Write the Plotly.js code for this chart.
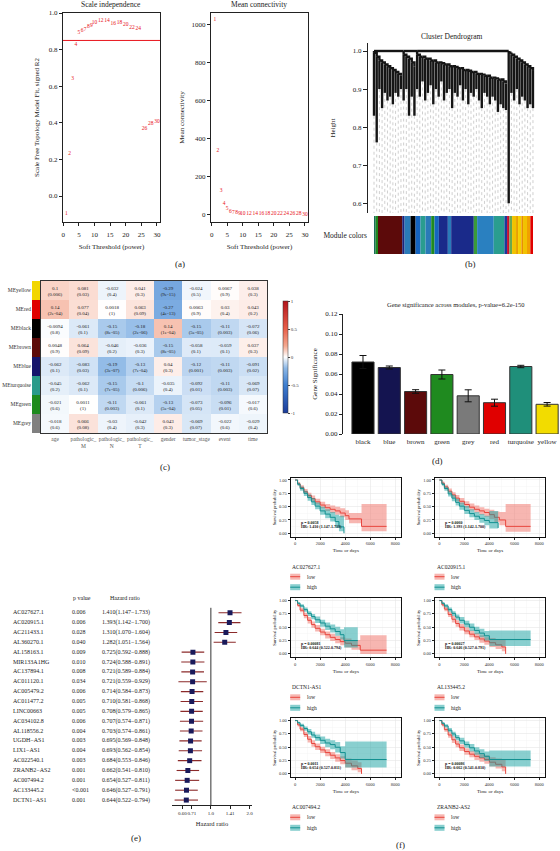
<!DOCTYPE html>
<html><head><meta charset="utf-8">
<script src="https://cdn.plot.ly/plotly-3.0.1.min.js"></script>
<style>html,body{margin:0;padding:0;background:#fff;}#chart{width:560px;height:851px;}</style>
</head><body><div id="chart"></div>
<script>
// ---------------- DATA ----------------
// (a) soft threshold
const powers=[1,2,3,4,5,6,7,8,9,10,12,14,16,18,20,22,24,26,28,30];
const sftR2=[-0.095,0.229,0.639,0.829,0.892,0.902,0.91,0.925,0.93,0.947,0.958,0.958,0.94,0.945,0.934,0.922,0.913,0.366,0.395,0.404];
const meanK=[1030,335,127,58,30,12,8,6,4.5,3.5,2.5,2,1.5,1.2,1,0.9,0.8,0.7,0.6,0.5];
const r2Cutoff=0.85;
// (b) dendrogram (simplified leaves) and module colours
const dendroTop=[0.995,0.985,0.975,0.97,0.965,0.96,0.955,0.95,0.945,0.94,0.935,
 0.99,0.985,0.98,0.97,0.96,
 0.99,0.985,0.985,0.98,0.98,0.975,0.975,0.97,0.97,0.968,0.965,0.965,0.96,0.96,0.958,0.955,0.955,0.95,0.95,0.948,0.945,0.945,0.94,0.94,0.938,0.935,0.935,0.93,0.93,0.928,0.925,0.925,0.92,0.915,
 1.0,
 0.99,0.985,0.98,0.975,0.97,0.965,0.96,0.955,0.95];
const dendroBottom=[0.83,0.76,0.90,0.85,0.89,0.87,0.88,0.86,0.89,0.88,0.90,
 0.87,0.90,0.83,0.88,0.83,
 0.90,0.88,0.92,0.87,0.89,0.91,0.86,0.90,0.88,0.92,0.87,0.89,0.90,0.85,0.89,0.88,0.91,0.87,0.90,0.86,0.89,0.88,0.90,0.87,0.85,0.89,0.88,0.86,0.88,0.87,0.84,0.86,0.85,0.845,
 0.60,
 0.89,0.87,0.90,0.86,0.88,0.87,0.85,0.86,0.85];
const clusterStart=[0,11,16,50,51];
const clusterEnd=[10,15,49,50,59];
const clusterJoin=[1.0,1.0,1.0,1.0,0.996];
const moduleBarWidths=[5,7,73,7,18,15,15,15,17,10,13,27,10,68,10,50,32,8,7,8,12,6,10,5,12,10,8];
const moduleBarColors=['#1A6E5A','#1F8A1F','#5C0A0A','#1A237E','#2A7AB8','#000000','#1565C0','#2A9D8F','#2A7AB8','#1F8A1F','#1565C0','#1A2A8A','#2A7AB8','#1A2A8A','#3A9A3A','#2A80C0','#2A9D8F','#1A3A9A','#C8102E','#6AA84F','#F2C200','#E8A000','#F5D000','#E89000','#F2C200','#F0A000','#E00000'];
// (c) module-trait heatmap
const traitNames=['age','pathologic_<br>M','pathologic_<br>N','pathologic_<br>T','gender','tumor_stage','event','time'];
const moduleNames=['MEyellow','MEred','MEblack','MEbrown','MEblue','MEturquoise','MEgreen','MEgrey'];
const moduleColors=['#F2D600','#E00000','#000000','#5C0A0A','#15156B','#2A9A8A','#1E8A1E','#808080'];
const corMatrix=[
 [0.1,0.081,-0.032,0.041,-0.29,-0.024,0.0067,0.038],
 [0.14,0.077,0.0018,0.063,-0.27,0.0063,0.03,0.043],
 [-0.0094,-0.061,-0.15,-0.18,0.14,-0.15,-0.11,-0.072],
 [0.0048,0.064,-0.046,-0.036,-0.15,-0.058,-0.059,0.037],
 [-0.062,-0.083,-0.19,-0.13,0.04,-0.12,-0.11,-0.091],
 [-0.045,-0.062,-0.15,-0.1,-0.035,-0.092,-0.11,-0.069],
 [-0.021,0.0011,-0.11,-0.061,-0.13,-0.073,-0.096,-0.017],
 [-0.018,0.066,-0.03,-0.042,0.043,-0.069,-0.022,-0.029]];
const pMatrix=[
 ['0.006','0.03','0.4','0.3','9e-15','0.5','0.9','0.3'],
 ['2e-04','0.04','1','0.09','4e-13','0.9','0.4','0.2'],
 ['0.8','0.1','8e-05','2e-06','1e-04','5e-05','0.003','0.06'],
 ['0.9','0.09','0.2','0.3','8e-05','0.1','0.1','0.3'],
 ['0.1','0.03','3e-07','7e-04','0.3','0.001','0.003','0.02'],
 ['0.2','0.1','7e-05','0.006','0.4','0.01','0.003','0.07'],
 ['0.6','1','0.003','0.1','5e-04','0.05','0.01','0.6'],
 ['0.6','0.08','0.4','0.3','0.3','0.07','0.6','0.4']];
// (d) gene significance
const gsModules=['black','blue','brown','green','grey','red','turquoise','yellow'];
const gsMean=[0.072,0.0665,0.0425,0.0595,0.0382,0.0313,0.0675,0.0297];
const gsErr=[0.0065,0.0015,0.0018,0.0045,0.006,0.0035,0.0012,0.0018];
const gsColors=['#000000','#141450','#5C0A0A','#1F8A1F','#7A7A7A','#E00000','#1F8F7A','#F2DC00'];
// (e) forest
const lncNames=['AC027627.1','AC020915.1','AC211433.1','AL360270.1','AL158163.1','MIR133A1HG','AC137894.1','AC011120.1','AC005479.2','AC011477.2','LINC00663','AC034102.8','AL118556.2','UGDH\u2212AS1','LIX1\u2212AS1','AC022540.1','ZRANB2\u2212AS2','AC007494.2','AC133445.2','DCTN1\u2212AS1'];
const lncP=['0.006','0.006','0.028','0.040','0.009','0.010','0.008','0.034','0.006','0.005','0.005','0.006','0.004','0.003','0.004','0.003','0.001','0.001','<0.001','0.001'];
const lncHR=[1.410,1.393,1.310,1.282,0.725,0.724,0.721,0.721,0.714,0.710,0.708,0.707,0.703,0.695,0.693,0.684,0.662,0.654,0.646,0.644];
const lncLow=[1.147,1.142,1.070,1.051,0.592,0.588,0.589,0.559,0.584,0.581,0.579,0.574,0.574,0.569,0.562,0.553,0.541,0.527,0.527,0.522];
const lncHigh=[1.733,1.700,1.604,1.564,0.888,0.891,0.884,0.929,0.873,0.868,0.865,0.871,0.861,0.848,0.854,0.846,0.810,0.811,0.791,0.794];
// (f) survival
const kmGenes=['AC027627.1','AC020915.1','DCTN1-AS1','AL133445.2','AC007494.2','ZRANB2-AS2'];
const kmForestIdx=[0,1,19,18,17,16];
const kmP=['0.0058','0.0060','0.00081','0.00027','0.0011','0.00086'];
const km1LowT=[0,200,400,700,1000,1300,1600,2000,2400,2800,3200,3600,4000,4300,5300,7300];
const km1LowS=[1,0.93,0.86,0.78,0.71,0.65,0.59,0.53,0.48,0.45,0.42,0.38,0.33,0.27,0.13,0.13];
const km1LowL=[1,0.90,0.82,0.74,0.66,0.60,0.54,0.47,0.42,0.38,0.35,0.30,0.25,0.19,0.04,0.04];
const km1LowU=[1,0.96,0.90,0.83,0.76,0.71,0.65,0.59,0.55,0.52,0.50,0.47,0.43,0.38,0.55,0.55];
const km1HighT=[0,200,400,700,1000,1300,1600,2000,2400,2800,3200,3500,3900];
const km1HighS=[1,0.92,0.84,0.75,0.67,0.59,0.51,0.42,0.36,0.30,0.22,0.12,0];
const km1HighL=[1,0.89,0.80,0.70,0.61,0.53,0.45,0.35,0.28,0.22,0.10,0.04,0];
const km1HighU=[1,0.95,0.88,0.80,0.73,0.66,0.58,0.50,0.45,0.40,0.35,0.33,0];
const km2LowT=[0,200,400,700,1000,1300,1600,2000,2400,2800,3200,3600,4000,4400,4800,5300,7300];
const km2LowS=[1,0.94,0.87,0.79,0.72,0.66,0.60,0.54,0.49,0.45,0.42,0.39,0.35,0.30,0.25,0.13,0.13];
const km2LowL=[1,0.91,0.83,0.75,0.67,0.60,0.54,0.48,0.43,0.39,0.35,0.31,0.27,0.21,0.15,0.03,0.03];
const km2LowU=[1,0.97,0.91,0.84,0.77,0.72,0.66,0.60,0.56,0.52,0.49,0.46,0.44,0.41,0.40,0.55,0.55];
const km2HighT=[0,200,400,700,1000,1300,1600,2000,2400,2800,3200,3600,4000,4700];
const km2HighS=[1,0.92,0.84,0.74,0.66,0.58,0.51,0.43,0.37,0.32,0.28,0.24,0.20,0.10];
const km2HighL=[1,0.89,0.80,0.69,0.60,0.52,0.44,0.36,0.30,0.25,0.20,0.15,0.09,0.04];
const km2HighU=[1,0.95,0.88,0.79,0.72,0.65,0.58,0.51,0.45,0.40,0.36,0.33,0.42,0.20];
const km3LowT=[0,200,400,700,1000,1300,1600,2000,2400,2800,3200,3600,4000,4500,5200,7300];
const km3LowS=[1,0.91,0.82,0.72,0.63,0.55,0.48,0.41,0.36,0.31,0.27,0.23,0.20,0.16,0.07,0.07];
const km3LowL=[1,0.88,0.78,0.67,0.57,0.49,0.42,0.35,0.29,0.24,0.20,0.16,0.12,0.08,0,0];
const km3LowU=[1,0.94,0.86,0.77,0.69,0.61,0.54,0.47,0.42,0.38,0.34,0.31,0.29,0.26,0.35,0.35];
const km3HighT=[0,200,400,700,1000,1300,1600,2000,2400,2800,3200,3600,3900,5000];
const km3HighS=[1,0.95,0.90,0.83,0.76,0.70,0.64,0.58,0.52,0.47,0.42,0.36,0.25,0.25];
const km3HighL=[1,0.93,0.87,0.79,0.71,0.65,0.58,0.51,0.45,0.40,0.34,0.27,0.12,0.12];
const km3HighU=[1,0.97,0.93,0.87,0.80,0.75,0.70,0.64,0.59,0.55,0.51,0.46,0.50,0.50];
const km4LowT=[0,200,400,700,1000,1300,1600,2000,2400,2800,3200,3600,4000,4500,5000,5300];
const km4LowS=[1,0.92,0.84,0.74,0.65,0.57,0.50,0.43,0.37,0.32,0.28,0.24,0.21,0.17,0.13,0];
const km4LowL=[1,0.89,0.80,0.69,0.59,0.51,0.44,0.37,0.31,0.26,0.21,0.17,0.13,0.09,0.05,0];
const km4LowU=[1,0.95,0.88,0.79,0.71,0.63,0.56,0.50,0.44,0.39,0.35,0.31,0.30,0.28,0.27,0];
const km4HighT=[0,200,400,700,1000,1300,1600,2000,2400,2800,3200,3600,4000,7300];
const km4HighS=[1,0.95,0.90,0.83,0.76,0.69,0.63,0.56,0.50,0.44,0.39,0.34,0.27,0.27];
const km4HighL=[1,0.93,0.87,0.79,0.71,0.64,0.57,0.50,0.43,0.37,0.31,0.25,0.15,0.15];
const km4HighU=[1,0.97,0.93,0.87,0.80,0.74,0.69,0.62,0.57,0.51,0.47,0.43,0.44,0.44];
const km5LowT=[0,200,400,700,1000,1300,1600,2000,2400,2800,3200,3600,4000,4500,5000,5300];
const km5LowS=[1,0.92,0.84,0.74,0.65,0.57,0.51,0.45,0.40,0.35,0.30,0.25,0.20,0.15,0.10,0];
const km5LowL=[1,0.89,0.80,0.69,0.59,0.51,0.45,0.39,0.33,0.28,0.23,0.18,0.12,0.07,0.03,0];
const km5LowU=[1,0.95,0.88,0.79,0.71,0.63,0.57,0.51,0.46,0.41,0.37,0.33,0.29,0.25,0.22,0];
const km5HighT=[0,200,400,700,1000,1300,1600,2000,2400,2800,3200,3600,4000,7300];
const km5HighS=[1,0.96,0.91,0.85,0.79,0.73,0.68,0.63,0.58,0.55,0.50,0.40,0.27,0.27];
const km5HighL=[1,0.94,0.88,0.81,0.74,0.68,0.62,0.56,0.50,0.46,0.40,0.29,0.12,0.12];
const km5HighU=[1,0.98,0.94,0.89,0.84,0.79,0.74,0.70,0.66,0.63,0.60,0.52,0.61,0.61];
const km6LowT=[0,200,400,700,1000,1300,1600,2000,2400,2800,3200,3600,4000,4500,5000,5300];
const km6LowS=[1,0.92,0.83,0.73,0.64,0.56,0.49,0.42,0.37,0.33,0.30,0.27,0.22,0.18,0.13,0];
const km6LowL=[1,0.89,0.79,0.68,0.58,0.50,0.43,0.36,0.31,0.26,0.23,0.19,0.14,0.10,0.05,0];
const km6LowU=[1,0.95,0.87,0.78,0.70,0.62,0.55,0.48,0.43,0.40,0.37,0.35,0.31,0.29,0.27,0];
const km6HighT=[0,200,400,700,1000,1300,1600,2000,2400,2800,3200,3600,4000,7300];
const km6HighS=[1,0.95,0.90,0.82,0.75,0.68,0.62,0.55,0.49,0.43,0.38,0.33,0.27,0.27];
const km6HighL=[1,0.93,0.87,0.78,0.70,0.63,0.56,0.49,0.42,0.36,0.30,0.24,0.14,0.14];
const km6HighU=[1,0.97,0.93,0.86,0.79,0.73,0.68,0.61,0.56,0.50,0.46,0.42,0.44,0.44];

// ---------------- BUILD ----------------
const W=560,H=851;
const dx=(a,b)=>[a/W,b/W];
const dy=(t,b)=>[1-b/H,1-t/H];
const px=x=>x/W, py=y=>1-y/H;
const serif='Liberation Serif, Times New Roman, serif';
const traces=[],annotations=[],shapes=[];
const base={showgrid:false,zeroline:false,showline:true,linecolor:'#222',linewidth:1,ticks:'outside',ticklen:3,tickwidth:1,tickcolor:'#222',tickfont:{family:serif,size:7,color:'#222'}};
const A=o=>Object.assign({},base,o);
const ttl=(t,s,so)=>({text:t,font:{family:serif,size:s,color:'#222'},standoff:so});
function note(x,y,t,s,o){annotations.push(Object.assign({xref:'paper',yref:'paper',x:px(x),y:py(y),xanchor:'center',yanchor:'middle',text:t,showarrow:false,font:{family:serif,size:s,color:'#222'}},o||{}));}

// (a)
traces.push({type:'scatter',mode:'text',x:powers,y:sftR2,text:powers.map(String),textfont:{family:serif,size:5.5,color:'#E8141B'},xaxis:'x',yaxis:'y',hoverinfo:'skip',cliponaxis:false});
traces.push({type:'scatter',mode:'text',x:powers,y:meanK,text:powers.map(String),textfont:{family:serif,size:5.5,color:'#E8141B'},xaxis:'x2',yaxis:'y2',hoverinfo:'skip',cliponaxis:false});
shapes.push({type:'line',xref:'x domain',yref:'y',x0:0,x1:1,y0:r2Cutoff,y1:r2Cutoff,line:{color:'#E8141B',width:1}});
note(111,4,'Scale independence',7.5);
note(259,4,'Mean connectivity',7.5);
note(180,264,'(a)',9);

// (b) dendrogram
const dX=[],dY=[],gX=[],gY=[];
dendroTop.forEach((t,i)=>{dX.push(i,i,null);dY.push(dendroBottom[i],t,null);gX.push(i,i,null);gY.push(dendroBottom[i],0.5746,null);});
clusterStart.forEach((s,c)=>{
  for(let i=s;i<clusterEnd[c];i++){dX.push(i,i+1,i+1,null);dY.push(dendroTop[i],dendroTop[i],dendroTop[i+1],null);}
  dX.push(s,s,null);dY.push(dendroTop[s],clusterJoin[c],null);
  if(c>0){dX.push(clusterStart[c-1],s,null);dY.push(clusterJoin[c],clusterJoin[c],null);}
});
traces.push({type:'scatter',mode:'lines',x:gX,y:gY,line:{color:'#b0b0b0',width:0.6,dash:'dot'},xaxis:'x3',yaxis:'y3',hoverinfo:'skip'});
traces.push({type:'scatter',mode:'lines',x:dX,y:dY,line:{color:'#151515',width:2.4},xaxis:'x3',yaxis:'y3',hoverinfo:'skip'});
const mcBase=[];let acc=0;moduleBarWidths.forEach(w=>{mcBase.push(acc);acc+=w;});
traces.push({type:'bar',orientation:'h',y:moduleBarWidths.map(()=>'Module colors'),x:moduleBarWidths,base:mcBase,width:1,marker:{color:moduleBarColors,line:{width:0}},xaxis:'x4',yaxis:'y4',hoverinfo:'skip'});
note(452,37,'Cluster Dendrogram',7.5);
note(470,264,'(b)',9);

// (c) heatmap
const cellText=corMatrix.map((r,i)=>r.map((v,j)=>String(v)+'<br>('+pMatrix[i][j]+')'));
traces.push({type:'heatmap',z:corMatrix,x:traitNames,y:moduleNames,text:cellText,texttemplate:'%{text}',textfont:{family:serif,size:5,color:'#222'},zmin:-1,zmax:1,
 colorscale:[[0,'#1B3C9A'],[0.25,'#3F7FD0'],[0.4,'#8DB8E6'],[0.5,'#FFFFFF'],[0.6,'#F4A88F'],[0.75,'#E8604A'],[1,'#B2141C']],
 colorbar:{x:px(273),xanchor:'left',y:py(357),yanchor:'middle',len:132,lenmode:'pixels',thickness:5,outlinewidth:0.5,outlinecolor:'#333',tickvals:[-1,-0.5,0,0.5,1],ticktext:['-1','-0.5','0','0.5','1'],ticks:'outside',ticklen:2,tickfont:{family:serif,size:5,color:'#333'}},
 xaxis:'x5',yaxis:'y5',hoverinfo:'skip',xgap:0,ygap:0});
traces.push({type:'bar',orientation:'h',y:moduleNames,x:moduleNames.map(()=>1),width:1,marker:{color:moduleColors,line:{width:0}},xaxis:'x6',yaxis:'y6',hoverinfo:'skip'});
note(165,467,'(c)',9);

// (d) bars
traces.push({type:'bar',x:gsModules,y:gsMean,marker:{color:gsColors,line:{color:'#333',width:1}},width:0.84,error_y:{type:'data',array:gsErr,visible:true,color:'#111',thickness:1,width:3.5},xaxis:'x7',yaxis:'y7',hoverinfo:'skip'});
note(456,304,'Gene significance across modules, p-value=6.2e-150',6.5);
note(437,461,'(d)',9);

// (e) forest
const hrText=lncHR.map((h,i)=>h.toFixed(3)+'('+lncLow[i].toFixed(3)+'\u2212'+lncHigh[i].toFixed(3)+')');
const tcol=(xs,txt)=>({type:'scatter',mode:'text',x:lncNames.map(()=>xs),y:lncNames,text:txt,textposition:'middle right',textfont:{family:serif,size:6,color:'#222'},xaxis:'x8',yaxis:'y8',hoverinfo:'skip',cliponaxis:false});
traces.push(tcol(13,lncNames),tcol(72,lncP),tcol(102,hrText));
traces.push({type:'scatter',mode:'markers',x:lncHR,y:lncNames,marker:{symbol:'square',size:5,color:'#1A1A5A'},
 error_x:{type:'data',symmetric:false,array:lncHigh.map((h,i)=>h-lncHR[i]),arrayminus:lncHR.map((h,i)=>h-lncLow[i]),color:'#8B2A2A',thickness:1.1,width:0},xaxis:'x9',yaxis:'y9',hoverinfo:'skip'});
shapes.push({type:'line',xref:'x9',yref:'y9 domain',x0:1,x1:1,y0:0,y1:1,line:{color:'#333',width:1}});
note(82,598,'p value',6);
note(125,598,'Hazard ratio',6);
note(136,838,'(e)',9);

// (f) survival
const kmData=[
 [[km1LowT,km1LowS,km1LowL,km1LowU],[km1HighT,km1HighS,km1HighL,km1HighU]],
 [[km2LowT,km2LowS,km2LowL,km2LowU],[km2HighT,km2HighS,km2HighL,km2HighU]],
 [[km3LowT,km3LowS,km3LowL,km3LowU],[km3HighT,km3HighS,km3HighL,km3HighU]],
 [[km4LowT,km4LowS,km4LowL,km4LowU],[km4HighT,km4HighS,km4HighL,km4HighU]],
 [[km5LowT,km5LowS,km5LowL,km5LowU],[km5HighT,km5HighS,km5HighL,km5HighU]],
 [[km6LowT,km6LowS,km6LowL,km6LowU],[km6HighT,km6HighS,km6HighL,km6HighU]]];
const kmStyle=[{line:'#E8463E',fill:'rgba(240,110,100,0.5)'},{line:'#129090',fill:'rgba(20,160,160,0.5)'}];
const colX=[[290.7,401],[435,545]];
const rowY=[[477.7,536.7],[598.3,657.3],[718.3,777.3]];
const layout={width:W,height:H,margin:{l:0,r:0,t:0,b:0},showlegend:false,paper_bgcolor:'#fff',plot_bgcolor:'#fff',font:{family:serif,color:'#222'},annotations,shapes};
kmData.forEach((pl,k)=>{
  const n=10+k, xa='x'+n, ya='y'+n;
  const c=colX[k%2], r=rowY[Math.floor(k/2)];
  pl.forEach((cv,g)=>{
    const st=kmStyle[g];
    traces.push({type:'scatter',mode:'lines',x:cv[0],y:cv[3],line:{width:0,shape:'hv'},xaxis:xa,yaxis:ya,hoverinfo:'skip'});
    traces.push({type:'scatter',mode:'lines',x:cv[0],y:cv[2],line:{width:0,shape:'hv'},fill:'tonexty',fillcolor:st.fill,xaxis:xa,yaxis:ya,hoverinfo:'skip'});
    traces.push({type:'scatter',mode:'lines',x:cv[0],y:cv[1],line:{width:1,shape:'hv',color:st.line},xaxis:xa,yaxis:ya,hoverinfo:'skip'});
  });
  const grid={showgrid:true,gridcolor:'#e6e6e6',gridwidth:0.6,mirror:true,linecolor:'#111',ticklen:2,tickangle:0,tickfont:{family:serif,size:4.5,color:'#333'}};
  layout['xaxis'+n]=A(Object.assign({},grid,{domain:dx(c[0],c[1]),range:[-350,8450],tick0:0,dtick:2000,minor:{dtick:1000,showgrid:true,gridcolor:'#f2f2f2',gridwidth:0.4},anchor:ya,title:ttl('Time or days',5,3)}));
  layout['yaxis'+n]=A(Object.assign({},grid,{domain:dy(r[0],r[1]),range:[-0.064,1.043],tick0:0,dtick:0.25,tickformat:'.2f',minor:{dtick:0.125,showgrid:true,gridcolor:'#f2f2f2',gridwidth:0.4},anchor:xa,title:ttl('Survival probability',4.5,2)}));
  const fi=kmForestIdx[k];
  annotations.push({xref:xa,yref:ya,x:300,y:0.2,xanchor:'left',yanchor:'middle',text:'<b>p = '+kmP[k]+'</b>',showarrow:false,font:{family:serif,size:4,color:'#111'}});
  annotations.push({xref:xa,yref:ya,x:300,y:0.12,xanchor:'left',yanchor:'middle',text:'<b>HR: '+lncHR[fi].toFixed(3)+' ('+lncLow[fi].toFixed(3)+'-'+lncHigh[fi].toFixed(3)+')</b>',showarrow:false,font:{family:serif,size:4,color:'#111'}});
  note(c[0]-0.5,r[0]+89,kmGenes[k],5.5,{xanchor:'left'});
  ['low','high'].forEach((lab,g)=>{
    const yc=r[0]+99+g*10.5;
    shapes.push({type:'rect',xref:'paper',yref:'paper',x0:px(c[0]-0.5),x1:px(c[0]+9.5),y0:py(yc+3),y1:py(yc-3),fillcolor:kmStyle[g].fill,line:{width:0}});
    shapes.push({type:'line',xref:'paper',yref:'paper',x0:px(c[0]-0.5),x1:px(c[0]+9.5),y0:py(yc),y1:py(yc),line:{color:kmStyle[g].line,width:1}});
    note(c[0]+14,yc,lab,5.5,{xanchor:'left'});
  });
});
note(400,845,'(f)',9);

// axes
Object.assign(layout,{
 xaxis:A({domain:dx(63,160),range:[-0.1,31],tickvals:[0,5,10,15,20,25,30],tickangle:0,mirror:true,anchor:'y',ticklabelstandoff:3,title:ttl('Soft Threshold (power)',7,5)}),
 yaxis:A({domain:dy(13,222),range:[-0.142,1.0],tickvals:[0,0.2,0.4,0.6,0.8,1],tickformat:'.1f',mirror:true,anchor:'x',title:ttl('Scale Free Topology Model Fit, signed R2',7,8)}),
 xaxis2:A({domain:dx(211,308),range:[-0.22,31],tickvals:[0,5,10,15,20,25,30],tickangle:0,mirror:true,anchor:'y2',ticklabelstandoff:3,title:ttl('Soft Threshold (power)',7,5)}),
 yaxis2:A({domain:dy(13,222),range:[-41,1063],tickvals:[0,200,400,600,800,1000],mirror:true,anchor:'x2',title:ttl('Mean connectivity',7,6)}),
 xaxis3:{domain:dx(368,537),range:[-2.23,60.5],visible:false,anchor:'y3'},
 yaxis3:A({domain:dy(43,213),range:[0.5746,1.021],tickvals:[0.6,0.7,0.8,0.9,1.0],tickformat:'.1f',ticklen:4,anchor:'x3',title:ttl('Height',7,16)}),
 xaxis4:{domain:dx(368,537),range:[-18,490],visible:false,anchor:'y4'},
 yaxis4:{domain:dy(216,254),type:'category',range:[-0.5,0.5],showline:false,ticks:'',showgrid:false,zeroline:false,tickfont:{family:serif,size:7.5,color:'#222'},anchor:'x4'},
 xaxis5:{domain:dx(41,267),type:'category',anchor:'y5',showline:true,mirror:true,linecolor:'#333',linewidth:1,ticks:'',showgrid:false,zeroline:false,tickangle:0,tickfont:{family:serif,size:5.5,color:'#555'}},
 yaxis5:{domain:dy(281,433),type:'category',range:[7.5,-0.5],showticklabels:false,showline:true,mirror:true,linecolor:'#333',linewidth:1,ticks:'',showgrid:false,zeroline:false,anchor:'x5'},
 xaxis6:{domain:dx(32,40),range:[0,1],visible:false,anchor:'y6'},
 yaxis6:{domain:dy(281,433),type:'category',categoryorder:'array',categoryarray:moduleNames,range:[7.5,-0.5],showline:false,ticks:'',showgrid:false,zeroline:false,tickfont:{family:serif,size:5.5,color:'#333'},anchor:'x6'},
 xaxis7:{domain:dx(343,560),type:'category',range:[-0.76,7.49],showline:false,ticks:'',showgrid:false,zeroline:false,tickangle:0,ticklabelstandoff:2,tickfont:{family:serif,size:7,color:'#222'},anchor:'y7'},
 yaxis7:A({domain:dy(314,434),range:[0,0.12],tickvals:[0,0.02,0.04,0.06,0.08,0.1,0.12],tickformat:'.2f',anchor:'x7',title:ttl('Gene Significance',7,6)}),
 xaxis8:{domain:dx(0,170),range:[0,170],visible:false,anchor:'y8'},
 yaxis8:{domain:dy(607.8,805),type:'category',categoryorder:'array',categoryarray:lncNames,range:[19.5,-0.5],visible:false,anchor:'x8'},
 xaxis9:A({domain:dx(172,252),type:'log',range:[-0.3026,0.3204],tickvals:[0.6,0.71,1,1.41,2],ticktext:['0.60','0.71','1.0','1.41','2.0'],tickangle:0,anchor:'y9',tickfont:{family:serif,size:5,color:'#222'},title:ttl('Hazard ratio',6.5,6)}),
 yaxis9:{domain:dy(607.8,805),type:'category',categoryorder:'array',categoryarray:lncNames,range:[19.5,-0.5],visible:false,anchor:'x9'}
});
Plotly.newPlot('chart',traces,layout,{staticPlot:true,displayModeBar:false});
</script></body></html>
